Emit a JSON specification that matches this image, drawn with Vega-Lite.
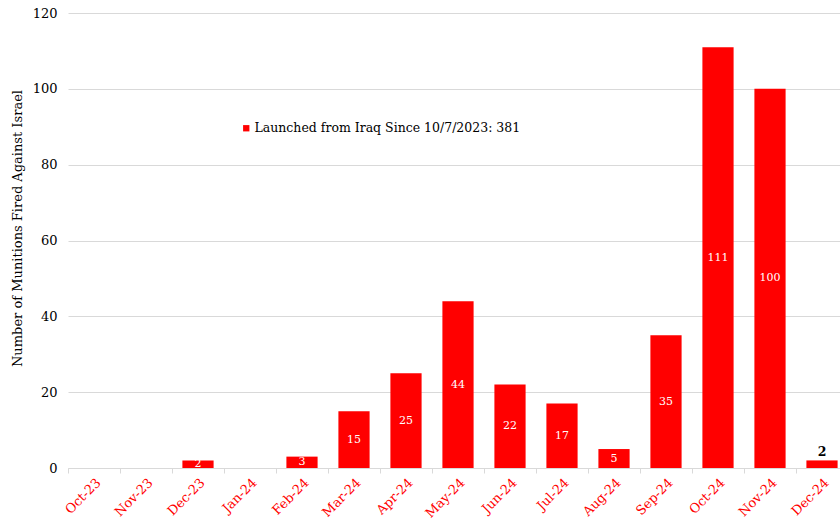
{
  "$schema": "https://vega.github.io/schema/vega-lite/v6.json",
  "width": 772,
  "height": 455,
  "autosize": {"type": "none"},
  "padding": {"left": 68, "top": 13, "right": 0, "bottom": 53},
  "background": "white",
  "config": {
    "view": {"stroke": null},
    "font": "DejaVu Serif"
  },
  "data": {
    "values": [
      {"month": "Oct-23", "value": 0, "series": "Launched from Iraq Since 10/7/2023: 381"},
      {"month": "Nov-23", "value": 0, "series": "Launched from Iraq Since 10/7/2023: 381"},
      {"month": "Dec-23", "value": 2, "series": "Launched from Iraq Since 10/7/2023: 381"},
      {"month": "Jan-24", "value": 0, "series": "Launched from Iraq Since 10/7/2023: 381"},
      {"month": "Feb-24", "value": 3, "series": "Launched from Iraq Since 10/7/2023: 381"},
      {"month": "Mar-24", "value": 15, "series": "Launched from Iraq Since 10/7/2023: 381"},
      {"month": "Apr-24", "value": 25, "series": "Launched from Iraq Since 10/7/2023: 381"},
      {"month": "May-24", "value": 44, "series": "Launched from Iraq Since 10/7/2023: 381"},
      {"month": "Jun-24", "value": 22, "series": "Launched from Iraq Since 10/7/2023: 381"},
      {"month": "Jul-24", "value": 17, "series": "Launched from Iraq Since 10/7/2023: 381"},
      {"month": "Aug-24", "value": 5, "series": "Launched from Iraq Since 10/7/2023: 381"},
      {"month": "Sep-24", "value": 35, "series": "Launched from Iraq Since 10/7/2023: 381"},
      {"month": "Oct-24", "value": 111, "series": "Launched from Iraq Since 10/7/2023: 381"},
      {"month": "Nov-24", "value": 100, "series": "Launched from Iraq Since 10/7/2023: 381"},
      {"month": "Dec-24", "value": 2, "series": "Launched from Iraq Since 10/7/2023: 381"}
    ]
  },
  "encoding": {
    "x": {
      "field": "month",
      "type": "ordinal",
      "sort": null,
      "scale": {"range": [0, 780], "paddingInner": 0, "paddingOuter": 0},
      "axis": {
        "title": null,
        "labelAngle": -45,
        "labelAlign": "right",
        "labelBaseline": "top",
        "labelColor": "#ff0000",
        "labelFontSize": 13,
        "labelPadding": 3,
        "tickBand": "extent",
        "tickColor": "#d9d9d9",
        "tickSize": 5,
        "domainColor": "#d9d9d9",
        "domainWidth": 1,
        "grid": false
      }
    }
  },
  "layer": [
    {
      "mark": {"type": "bar", "width": {"band": 0.6}, "clip": true},
      "encoding": {
        "y": {
          "field": "value",
          "type": "quantitative",
          "scale": {"domain": [0, 120]},
          "axis": {
            "title": "Number of Munitions Fired Against Israel",
            "titleFontSize": 13,
            "titleFontWeight": "normal",
            "titleColor": "black",
            "titleY": 215,
            "titlePadding": 8,
            "values": [0, 20, 40, 60, 80, 100, 120],
            "labelFontSize": 13,
            "labelColor": "black",
            "labelPadding": 11,
            "domain": false,
            "ticks": false,
            "gridColor": "#d9d9d9",
            "gridWidth": 1
          }
        },
        "color": {
          "field": "series",
          "type": "nominal",
          "scale": {"range": ["#ff0000"]},
          "legend": {
            "title": null,
            "orient": "none",
            "legendX": 172,
            "legendY": 109,
            "symbolType": "square",
            "symbolSize": 40,
            "symbolStrokeWidth": 0,
            "labelFontSize": 12.5,
            "labelColor": "black",
            "labelOffset": 2,
            "labelLimit": 400
          }
        }
      }
    },
    {
      "transform": [
        {"filter": "datum.value > 0 && datum.month != 'Dec-24'"},
        {"calculate": "datum.value / 2", "as": "mid"}
      ],
      "mark": {"type": "text", "color": "white", "fontSize": 11, "baseline": "middle"},
      "encoding": {
        "y": {"field": "mid", "type": "quantitative"},
        "text": {"field": "value", "type": "quantitative"}
      }
    },
    {
      "transform": [{"filter": "datum.month == 'Dec-24'"}],
      "mark": {"type": "text", "color": "black", "fontSize": 12.5, "baseline": "bottom", "dy": -1, "fontWeight": "bold"},
      "encoding": {
        "y": {"field": "value", "type": "quantitative"},
        "text": {"field": "value", "type": "quantitative"}
      }
    }
  ]
}
